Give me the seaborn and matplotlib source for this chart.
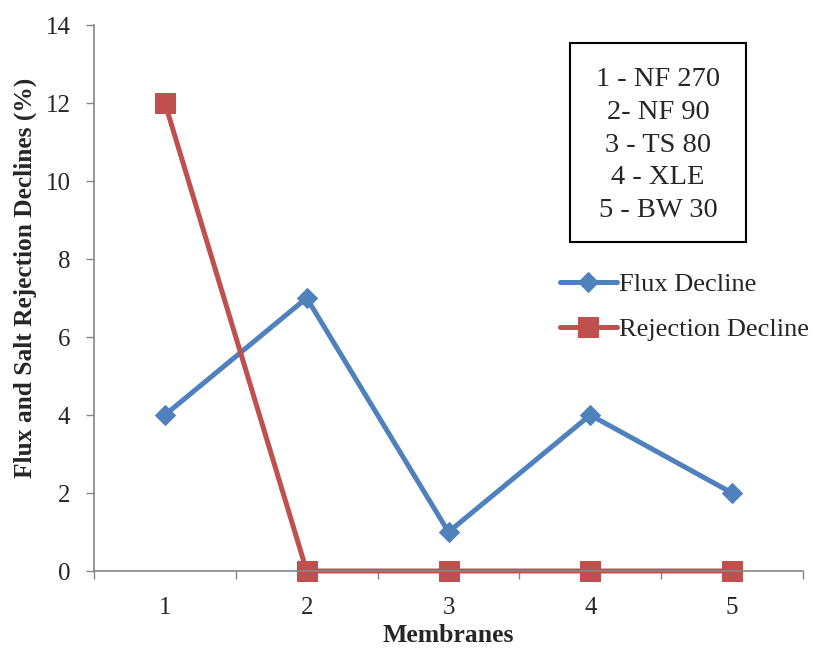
import numpy as np
import pandas as pd
import matplotlib
matplotlib.use("Agg")
import matplotlib.pyplot as plt
from matplotlib.patches import Rectangle
import seaborn as sns

membranes = ["1", "2", "3", "4", "5"]
flux_decline = [4, 7, 1, 4, 2]
rejection_decline = [12, 0, 0, 0, 0]
series_names = ["Flux Decline", "Rejection Decline"]
box_lines = ["1 - NF 270", "2- NF 90", "3 - TS 80", "4 - XLE", "5 - BW 30"]

sns.set_theme(style="white")
plt.rcParams["font.family"] = ["Liberation Serif", "DejaVu Serif"]

df = pd.DataFrame({
    "pos": list(range(len(membranes))) * 2,
    "value": flux_decline + rejection_decline,
    "series": [series_names[0]] * 5 + [series_names[1]] * 5,
})

W, H = 815, 648
fig = plt.figure(figsize=(W/100, H/100), dpi=100)
ax0, ax1, ay0, ay1 = 94, 803, 25, 571
ax = fig.add_axes([ax0/W, 1-ay1/H, (ax1-ax0)/W, (ay1-ay0)/H])

palette = {series_names[0]: "#4F81BD", series_names[1]: "#C0504D"}
markers = {series_names[0]: "D", series_names[1]: "s"}
sizes = {series_names[0]: 10.5, series_names[1]: 14}
for name in series_names:
    sub = df[df["series"] == name]
    sns.lineplot(data=sub, x="pos", y="value", ax=ax, color=palette[name],
                 marker=markers[name], markersize=sizes[name], linewidth=3.6,
                 markeredgecolor=palette[name], label=name, clip_on=False)

ax.set_xlim(-0.5, 4.5)
ax.set_ylim(0, 14)
ax.set_yticks(np.arange(0, 15, 2))
ax.set_xticks(np.arange(-0.5, 4.6, 1.0))
ax.set_xticklabels([])
ax.set_xticks(range(len(membranes)), minor=True)
ax.set_xticklabels(membranes, minor=True)
ax.tick_params(axis="x", which="major", direction="out", length=6, width=1, color="#868686", bottom=True)
ax.tick_params(axis="x", which="minor", length=0, labelsize=18, pad=19)
ax.tick_params(axis="y", direction="out", length=6, width=1, color="#868686", left=True, labelsize=18, pad=11)

for s in ["top", "right"]:
    ax.spines[s].set_visible(False)
for s in ["left", "bottom"]:
    ax.spines[s].set_color("#868686")
    ax.spines[s].set_linewidth(1.2)

ax.set_xlabel("Membranes", fontsize=18.5, fontweight="bold", labelpad=3)
ax.set_ylabel("Flux and Salt Rejection Declines (%)", fontsize=18.3, fontweight="bold")
ax.yaxis.set_label_coords((37-ax0)/(ax1-ax0), (ay1-277.5)/(ay1-ay0))

ax.legend(loc="upper left", bbox_to_anchor=(560/W, 1-273/H), bbox_transform=fig.transFigure,
          frameon=False, fontsize=19, handlelength=2.15, handletextpad=0.1,
          labelspacing=0.8, borderaxespad=0, borderpad=0)

fig.patches.append(Rectangle((570/W, 1-242/H), 176/W, 199/H, transform=fig.transFigure,
                             facecolor="white", edgecolor="black", linewidth=1.5, zorder=5))
fig.text(658/W, 1-145/H, "\n".join(box_lines), ha="center", va="center",
         fontsize=20.5, linespacing=1.42, zorder=6)

fig.savefig("out.png", dpi=100)
